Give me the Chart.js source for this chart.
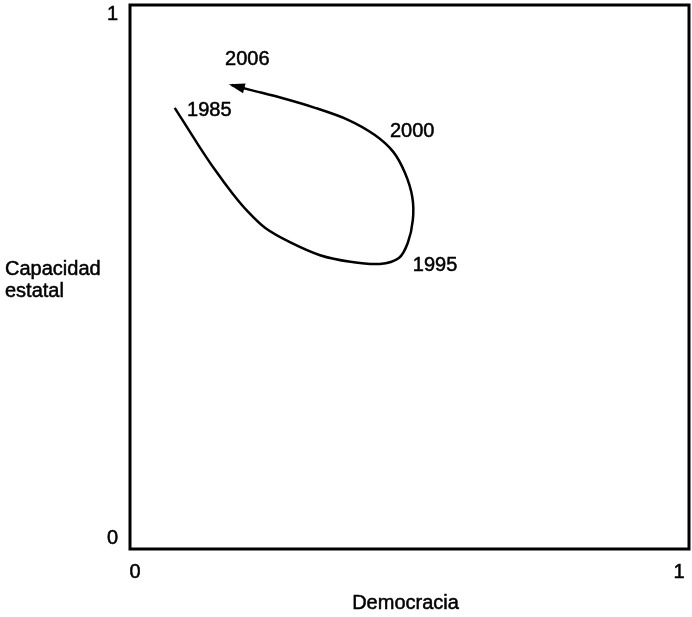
<!doctype html>
<html lang="es">
<head>
  <meta charset="utf-8">
  <title>Capacidad estatal y democracia</title>
  <script src="https://cdn.jsdelivr.net/npm/chart.js"></script>
  <style>
    html, body { margin: 0; padding: 0; background: #fff; }
    #wrap { width: 692px; height: 617px; }
  </style>
</head>
<body>
  <div id="wrap"><canvas id="chart"></canvas></div>

  <script>
    // trayectoria (democracia, capacidad estatal), 1985 -> 2006
    const democracia = [0.080, 0.122, 0.152, 0.183, 0.211, 0.242, 0.286, 0.340, 0.394, 0.447, 0.481, 0.497, 0.506, 0.505, 0.492, 0.471, 0.438, 0.390, 0.331, 0.272, 0.215, 0.182];
    const capacidad  = [0.811, 0.743, 0.697, 0.654, 0.620, 0.590, 0.564, 0.540, 0.528, 0.524, 0.535, 0.563, 0.605, 0.647, 0.691, 0.730, 0.761, 0.789, 0.811, 0.829, 0.844, 0.853];

    // etiquetas de años (posición en unidades de datos)
    const anios   = ['1985', '2006', '2000', '1995'];
    const anioX   = [0.102, 0.170, 0.465, 0.506];
    const anioY   = [0.807, 0.899, 0.768, 0.522];

    const tickVals = [0, 1];
    const FONT = '20px "Liberation Sans", Arial, sans-serif';

    const puntos = democracia.map((x, i) => ({ x: x, y: capacidad[i] }));

    function texto(ctx, t, x, y) {
      ctx.strokeText(t, x, y);
      ctx.fillText(t, x, y);
    }

    const extras = {
      id: 'extras',
      afterDatasetsDraw(chart) {
        const ctx = chart.ctx;
        const a = chart.chartArea;
        const xs = chart.scales.x, ys = chart.scales.y;
        ctx.save();

        // marco
        ctx.strokeStyle = '#000';
        ctx.lineWidth = 3;
        ctx.strokeRect(a.left, a.top, a.right - a.left, a.bottom - a.top);

        // flecha al final de la curva
        const n = puntos.length;
        const tx = xs.getPixelForValue(puntos[n - 1].x), ty = ys.getPixelForValue(puntos[n - 1].y);
        const px = xs.getPixelForValue(puntos[n - 2].x), py = ys.getPixelForValue(puntos[n - 2].y);
        const ang = Math.atan2(ty - py, tx - px);
        const len = 13, half = 5;
        ctx.fillStyle = '#000';
        ctx.beginPath();
        ctx.moveTo(tx + Math.cos(ang) * 3, ty + Math.sin(ang) * 3);
        ctx.lineTo(tx - Math.cos(ang) * len + Math.sin(ang) * half, ty - Math.sin(ang) * len - Math.cos(ang) * half);
        ctx.lineTo(tx - Math.cos(ang) * len - Math.sin(ang) * half, ty - Math.sin(ang) * len + Math.cos(ang) * half);
        ctx.closePath();
        ctx.fill();

        ctx.font = FONT;
        ctx.fillStyle = '#000';
        ctx.lineWidth = 0.5;

        // años
        ctx.textAlign = 'left';
        ctx.textBaseline = 'middle';
        anios.forEach((t, i) => {
          texto(ctx, t, xs.getPixelForValue(anioX[i]), ys.getPixelForValue(anioY[i]));
        });

        // ticks eje y (0 y 1, hacia dentro)
        ctx.textAlign = 'right';
        texto(ctx, String(tickVals[1]), a.left - 12, ys.getPixelForValue(tickVals[1]) + 9);
        texto(ctx, String(tickVals[0]), a.left - 12, ys.getPixelForValue(tickVals[0]) - 11);

        // ticks eje x
        ctx.textAlign = 'center';
        texto(ctx, String(tickVals[0]), xs.getPixelForValue(tickVals[0]) + 5, a.bottom + 23);
        texto(ctx, String(tickVals[1]), xs.getPixelForValue(tickVals[1]) - 10, a.bottom + 23);

        // títulos
        texto(ctx, 'Democracia', (a.left + a.right) / 2 - 4, a.bottom + 54);
        ctx.textAlign = 'left';
        texto(ctx, 'Capacidad', 5, 269);
        texto(ctx, 'estatal', 5, 291);

        ctx.restore();
      }
    };

    new Chart(document.getElementById('chart'), {
      type: 'scatter',
      data: {
        datasets: [{
          data: puntos,
          showLine: true,
          borderColor: '#000',
          borderWidth: 2.5,
          pointRadius: 0,
          tension: 0.3,
          fill: false
        }]
      },
      options: {
        responsive: true,
        maintainAspectRatio: false,
        animation: false,
        layout: { padding: { left: 130, top: 5, right: 3, bottom: 68 } },
        plugins: { legend: { display: false }, tooltip: { enabled: false } },
        scales: {
          x: { type: 'linear', min: 0, max: 1, display: false },
          y: { type: 'linear', min: 0, max: 1, display: false }
        }
      },
      plugins: [extras]
    });
  </script>
</body>
</html>
